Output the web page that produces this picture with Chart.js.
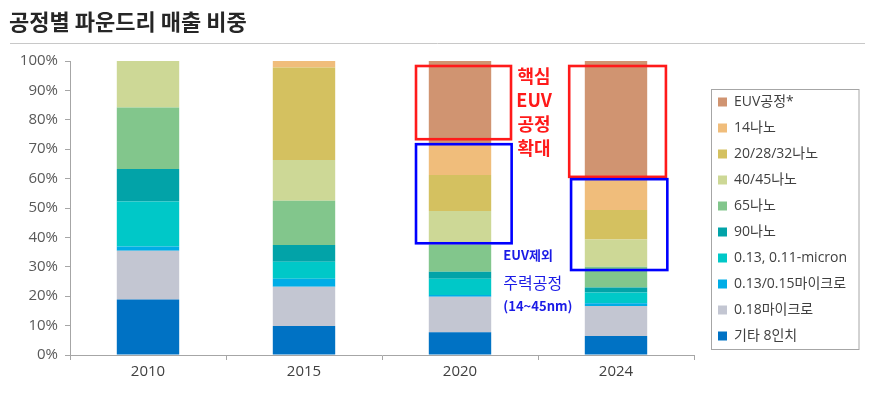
<!DOCTYPE html>
<html><head><meta charset="utf-8">
<script src="https://cdn.jsdelivr.net/npm/chart.js@4.4.1/dist/chart.umd.min.js"></script>
<style>html,body{margin:0;padding:0;background:#fff;}canvas{display:block;}</style>
</head><body>
<canvas id="c" width="875" height="399"></canvas>
<script>
// ---- data (percent of foundry revenue by process node) ----
const categories = ['2010', '2015', '2020', '2024'];
const seriesLabels = ['기타 8인치', '0.18마이크로', '0.13/0.15마이크로', '0.13, 0.11-micron', '90나노', '65나노', '40/45나노', '20/28/32나노', '14나노', 'EUV공정*'];
const etc8inch   = [18.9, 9.9, 7.7, 6.5];
const micro018   = [16.6, 13.3, 12.1, 10.2];
const micro013015= [1.4, 2.7, 0.6, 0.9];
const micro013011= [15.3, 5.8, 5.5, 3.7];
const nano90     = [11.1, 5.7, 2.4, 1.7];
const nano65     = [20.9, 15.1, 9.1, 7.0];
const nano4045   = [15.8, 13.8, 11.6, 9.3];
const nano202832 = [0, 31.5, 12.2, 10.0];
const nano14     = [0, 2.2, 10.8, 10.8];
const euv        = [0, 0, 28.0, 39.9];
const yTickValues = [0, 10, 20, 30, 40, 50, 60, 70, 80, 90, 100];

const seriesValues = [etc8inch, micro018, micro013015, micro013011, nano90, nano65, nano4045, nano202832, nano14, euv];
const seriesColors = ['#0072c4', '#c3c6d2', '#00ade6', '#00c8c8', '#02a3a8', '#82c68c', '#cdd896', '#d4c160', '#f0bd7b', '#d09471'];

// annotation overlays (category index + offset in category widths, y in %)
const redBoxes  = [{c: 2, x0: -0.282, x1: 0.327, y0: 98.3, y1: 73.4}, {c: 3, x0: -0.30, x1: 0.32, y0: 98.3, y1: 60.6}];
const blueBoxes = [{c: 2, x0: -0.282, x1: 0.331, y0: 71.7, y1: 38.0}, {c: 3, x0: -0.288, x1: 0.329, y0: 59.8, y1: 28.9}];
const redText  = {c: 2, dx: 0.475, lines: ['핵심', 'EUV', '공정', '확대'], ys: [94.9, 86.7, 78.5, 70.2]};
const blueText = {c: 2, dx: 0.278, lines: ['EUV제외', '주력공정', '(14~45nm)'], ys: [33.9, 24.5, 16.7]};

const FONT = "'Open Sans', 'Noto Sans CJK KR', sans-serif";
const KFONT = "'Noto Sans CJK KR', sans-serif";
Chart.defaults.font.family = FONT;
Chart.defaults.color = '#404040';

const decor = {
  id: 'decor',
  afterLayout(chart) {
    const l = chart.legend;
    if (l) { l.left += 12; l.width = 170; l.right = l.left + 170; }
  },
  afterDraw(chart) {
    const ctx = chart.ctx;
    const xs = chart.scales.x, ys = chart.scales.y;
    const cw = xs.width / categories.length;
    ctx.save();
    // title
    ctx.fillStyle = '#262626';
    ctx.font = "bold 22px " + KFONT;
    ctx.textBaseline = 'middle';
    ctx.textAlign = 'left';
    ctx.fillText('공정별 파운드리 매출 비중', 9, 22);
    ctx.strokeStyle = '#c8c8c8';
    ctx.lineWidth = 1;
    ctx.beginPath(); ctx.moveTo(10, 43.5); ctx.lineTo(865, 43.5); ctx.stroke();
    // boxes
    const drawBox = (b, col) => {
      const cx = xs.getPixelForValue(b.c);
      const x0 = cx + b.x0 * cw, x1 = cx + b.x1 * cw;
      const y0 = ys.getPixelForValue(b.y0), y1 = ys.getPixelForValue(b.y1);
      ctx.strokeStyle = col; ctx.lineWidth = 2.6;
      ctx.strokeRect(x0, y0, x1 - x0, y1 - y0);
    };
    redBoxes.forEach(b => drawBox(b, '#ff1a1a'));
    blueBoxes.forEach(b => drawBox(b, '#0000ff'));
    // red text
    ctx.fillStyle = '#ff1a1a';
    ctx.textAlign = 'center';
    ctx.font = "bold 18px " + KFONT;
    const rx = xs.getPixelForValue(redText.c) + redText.dx * cw;
    redText.lines.forEach((t, i) => ctx.fillText(t, rx, ys.getPixelForValue(redText.ys[i])));
    // blue text
    ctx.fillStyle = '#1a1ae6';
    ctx.textAlign = 'left';
    const bx = xs.getPixelForValue(blueText.c) + blueText.dx * cw;
    const bfonts = ["bold 13px " + KFONT, "16px " + KFONT, "bold 13px " + KFONT];
    blueText.lines.forEach((t, i) => { ctx.font = bfonts[i]; ctx.fillText(t, bx, ys.getPixelForValue(blueText.ys[i])); });
    // legend frame
    const l = chart.legend;
    if (l && l.legendHitBoxes && l.legendHitBoxes.length) {
      const hb = l.legendHitBoxes;
      let top = Infinity, bot = -Infinity;
      hb.forEach(h => { top = Math.min(top, h.top + h.height / 2); bot = Math.max(bot, h.top + h.height / 2); });
      const x0 = l.left + 5.5;
      ctx.strokeStyle = '#a6a6a6'; ctx.lineWidth = 1;
      ctx.strokeRect(x0, Math.round(top - 13.4) + 0.5, 147.5, Math.round(bot - top + 26.4));
    }
    ctx.restore();
  }
};

new Chart(document.getElementById('c'), {
  type: 'bar',
  data: {
    labels: categories,
    datasets: seriesLabels.map((lab, i) => ({
      label: lab,
      data: seriesValues[i],
      backgroundColor: seriesColors[i],
      borderWidth: 0,
      categoryPercentage: 1.0,
      barPercentage: 0.4
    }))
  },
  options: {
    responsive: false,
    animation: false,
    devicePixelRatio: 1,
    layout: {padding: {left: 10, top: 61, right: 51, bottom: 0}},
    plugins: {
      title: {display: false},
      tooltip: {enabled: false},
      legend: {
        position: 'right',
        align: 'end',
        fullSize: false,
        reverse: true,
        maxWidth: 130,
        labels: {boxWidth: 9, boxHeight: 9, padding: 12, color: '#404040', font: {size: 14, family: FONT}}
      }
    },
    scales: {
      x: {
        stacked: true,
        grid: {offset: true, drawOnChartArea: false, drawTicks: true, tickLength: 5, color: '#a6a6a6'},
        border: {color: '#a6a6a6'},
        ticks: {color: '#404040', font: {size: 15}, padding: 3},
        afterFit(s) { s.height = 44; }
      },
      y: {
        stacked: true,
        min: 0, max: 100,
        afterBuildTicks(s) { s.ticks = yTickValues.map(v => ({value: v})); },
        grid: {drawOnChartArea: false, drawTicks: true, tickLength: 5, color: '#a6a6a6'},
        border: {color: '#a6a6a6'},
        ticks: {color: '#595959', font: {size: 15}, padding: 7, callback: v => v + '%'},
        afterFit(s) { s.width = 60; }
      }
    }
  },
  plugins: [decor]
});
</script>
</body></html>
